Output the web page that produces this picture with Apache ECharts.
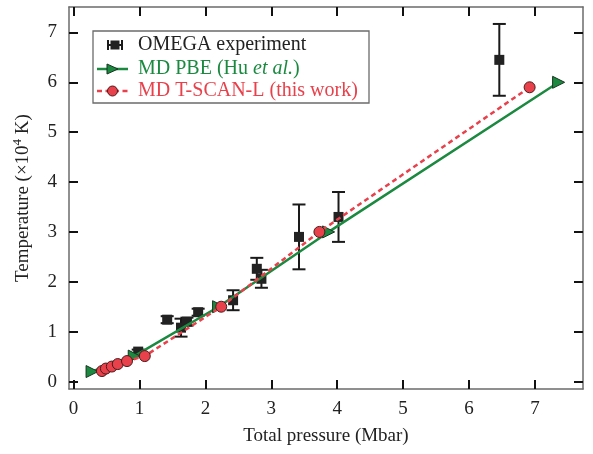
<!DOCTYPE html>
<html>
<head>
<meta charset="utf-8">
<script src="https://cdn.jsdelivr.net/npm/echarts@6.0.0/dist/echarts.min.js"></script>
<style>
html,body{margin:0;padding:0;background:#fff;}
#chart{width:593px;height:454px;}
</style>
</head>
<body>
<div id="chart"></div>
<script>
// ---- data ----
var tickValues = [0, 1, 2, 3, 4, 5, 6, 7];
var omegaP   = [0.98, 1.42, 1.63, 1.72, 1.89, 2.42, 2.78, 2.85, 3.42, 4.02, 6.46];
var omegaT   = [0.60, 1.24, 1.08, 1.20, 1.39, 1.63, 2.26, 2.06, 2.90, 3.30, 6.45];
var omegaErr = [0.04, 0.07, 0.18, 0.08, 0.07, 0.20, 0.22, 0.18, 0.65, 0.50, 0.72];
var pbeP  = [0.28, 0.92, 2.20, 3.87, 7.36];
var pbeT  = [0.20, 0.51, 1.50, 3.00, 6.00];
var scanP = [0.43, 0.49, 0.58, 0.67, 0.81, 1.08, 2.24, 3.73, 6.92];
var scanT = [0.21, 0.26, 0.30, 0.35, 0.41, 0.51, 1.50, 3.00, 5.90];
var legendNames = ['OMEGA experiment', 'MD PBE (Hu et al.)', 'MD T-SCAN-L (this work)'];

var FONT = 'Liberation Serif';
var FS = 19;
var LFS = 20;
var GREEN = '#1b8a40';
var RED = '#e8414b';
var BLACK = '#1a1a1a';
var FRAME = '#6b6b6b';

var chart = echarts.init(document.getElementById('chart'), null, {renderer: 'canvas'});

function zip(a, b) { return a.map(function (v, i) { return [v, b[i]]; }); }

function axisCommon(extra) {
  var base = {
    type: 'value',
    axisLine: {show: true, onZero: false, lineStyle: {color: FRAME, width: 1.5}},
    axisTick: {show: true, inside: true, length: 9, customValues: tickValues, lineStyle: {color: '#111', width: 2}},
    axisLabel: {show: false},
    splitLine: {show: false}
  };
  for (var k in extra) base[k] = extra[k];
  return base;
}

var option = {
  animation: false,
  backgroundColor: '#fff',
  grid: {left: 69, right: 10, top: 7, bottom: 65, containLabel: false},
  xAxis: [
    axisCommon({
      position: 'bottom', min: -0.07, max: 7.73,
      axisLabel: {show: true, customValues: tickValues, margin: 11, fontFamily: FONT, fontSize: FS, color: '#222'},
      name: 'Total pressure (Mbar)', nameLocation: 'middle', nameGap: 38,
      nameTextStyle: {fontFamily: FONT, fontSize: FS, color: '#222'}
    }),
    axisCommon({position: 'top', min: -0.07, max: 7.73})
  ],
  yAxis: [
    axisCommon({
      position: 'left', min: -0.15, max: 7.51,
      axisLabel: {show: true, customValues: tickValues, margin: 12, fontFamily: FONT, fontSize: FS, color: '#222'},
      name: '{a|Temperature (×10}{s|4}{a| K)}', nameLocation: 'middle', nameGap: 36,
      nameTextStyle: {
        fontFamily: FONT, fontSize: FS, color: '#222',
        rich: {
          a: {fontFamily: FONT, fontSize: FS, color: '#222', lineHeight: 22, verticalAlign: 'bottom'},
          s: {fontFamily: FONT, fontSize: 13, color: '#222', lineHeight: 14, verticalAlign: 'top'}
        }
      }
    }),
    axisCommon({position: 'right', min: -0.15, max: 7.51})
  ],
  series: [
    {
      name: legendNames[0] + ' error',
      type: 'custom',
      xAxisIndex: 0, yAxisIndex: 0,
      data: omegaP.map(function (p, i) { return [p, omegaT[i], omegaErr[i]]; }),
      encode: {x: 0, y: 1},
      z: 2,
      renderItem: function (params, api) {
        var x = api.value(0), y = api.value(1), e = api.value(2);
        var t = api.coord([x, y + e]);
        var b = api.coord([x, y - e]);
        var hw = 6.5;
        var st = {stroke: BLACK, lineWidth: 2};
        return {
          type: 'group',
          children: [
            {type: 'line', shape: {x1: t[0], y1: t[1], x2: b[0], y2: b[1]}, style: st},
            {type: 'line', shape: {x1: t[0] - hw, y1: t[1], x2: t[0] + hw, y2: t[1]}, style: st},
            {type: 'line', shape: {x1: b[0] - hw, y1: b[1], x2: b[0] + hw, y2: b[1]}, style: st}
          ]
        };
      }
    },
    {
      name: legendNames[0],
      type: 'scatter',
      xAxisIndex: 0, yAxisIndex: 0,
      data: zip(omegaP, omegaT),
      symbol: 'rect', symbolSize: 10,
      itemStyle: {color: '#222', opacity: 1},
      z: 3
    },
    {
      name: legendNames[1],
      type: 'line',
      xAxisIndex: 0, yAxisIndex: 0,
      data: zip(pbeP, pbeT),
      symbol: 'triangle', symbolSize: 12, symbolRotate: -90, showAllSymbol: true,
      lineStyle: {color: GREEN, width: 2.5},
      itemStyle: {color: GREEN, borderColor: '#17351f', borderWidth: 1},
      z: 4
    },
    {
      name: legendNames[2],
      type: 'line',
      xAxisIndex: 0, yAxisIndex: 0,
      data: zip(scanP, scanT),
      symbol: 'circle', symbolSize: 11, showAllSymbol: true,
      lineStyle: {color: RED, width: 2.5, type: [5, 3.5]},
      itemStyle: {color: RED, borderColor: '#4a1c1c', borderWidth: 1},
      z: 5
    }
  ],
  graphic: [
    {type: 'rect', shape: {x: 93, y: 31, width: 276, height: 72}, style: {fill: '#fff', stroke: FRAME, lineWidth: 1.3}, z: 10},
    // OMEGA icon
    {type: 'line', shape: {x1: 108, y1: 45, x2: 122, y2: 45}, style: {stroke: BLACK, lineWidth: 2}, z: 11},
    {type: 'line', shape: {x1: 108, y1: 40, x2: 108, y2: 50}, style: {stroke: BLACK, lineWidth: 2}, z: 11},
    {type: 'line', shape: {x1: 122, y1: 40, x2: 122, y2: 50}, style: {stroke: BLACK, lineWidth: 2}, z: 11},
    {type: 'rect', shape: {x: 110.5, y: 40.5, width: 9, height: 9}, style: {fill: '#222'}, z: 11},
    {type: 'text', x: 138, y: 45, style: {text: legendNames[0], fontFamily: FONT, fontSize: LFS, fill: '#222', verticalAlign: 'middle'}, z: 11},
    // PBE icon
    {type: 'line', shape: {x1: 97, y1: 69, x2: 128, y2: 69}, style: {stroke: GREEN, lineWidth: 2.5}, z: 11},
    {type: 'polygon', shape: {points: [[107, 64], [118, 69], [107, 74]]}, style: {fill: GREEN, stroke: '#17351f', lineWidth: 1}, z: 12},
    {type: 'text', x: 138, y: 69, style: {
      text: '{n|MD PBE (Hu }{i|et al.}{n|)}',
      fontFamily: FONT, fontSize: LFS, fill: GREEN, verticalAlign: 'middle',
      rich: {
        n: {fontFamily: FONT, fontSize: LFS, fill: GREEN},
        i: {fontFamily: FONT, fontSize: LFS, fill: GREEN, fontStyle: 'italic'}
      }
    }, z: 11},
    // SCAN icon
    {type: 'line', shape: {x1: 97, y1: 91, x2: 128, y2: 91}, style: {stroke: RED, lineWidth: 2.5, lineDash: [5, 3.5]}, z: 11},
    {type: 'circle', shape: {cx: 112.5, cy: 91, r: 5}, style: {fill: RED, stroke: '#4a1c1c', lineWidth: 1}, z: 12},
    {type: 'text', x: 138, y: 91, style: {text: legendNames[2], fontFamily: FONT, fontSize: LFS, fill: RED, verticalAlign: 'middle'}, z: 11}
  ]
};

chart.setOption(option);
</script>
</body>
</html>
